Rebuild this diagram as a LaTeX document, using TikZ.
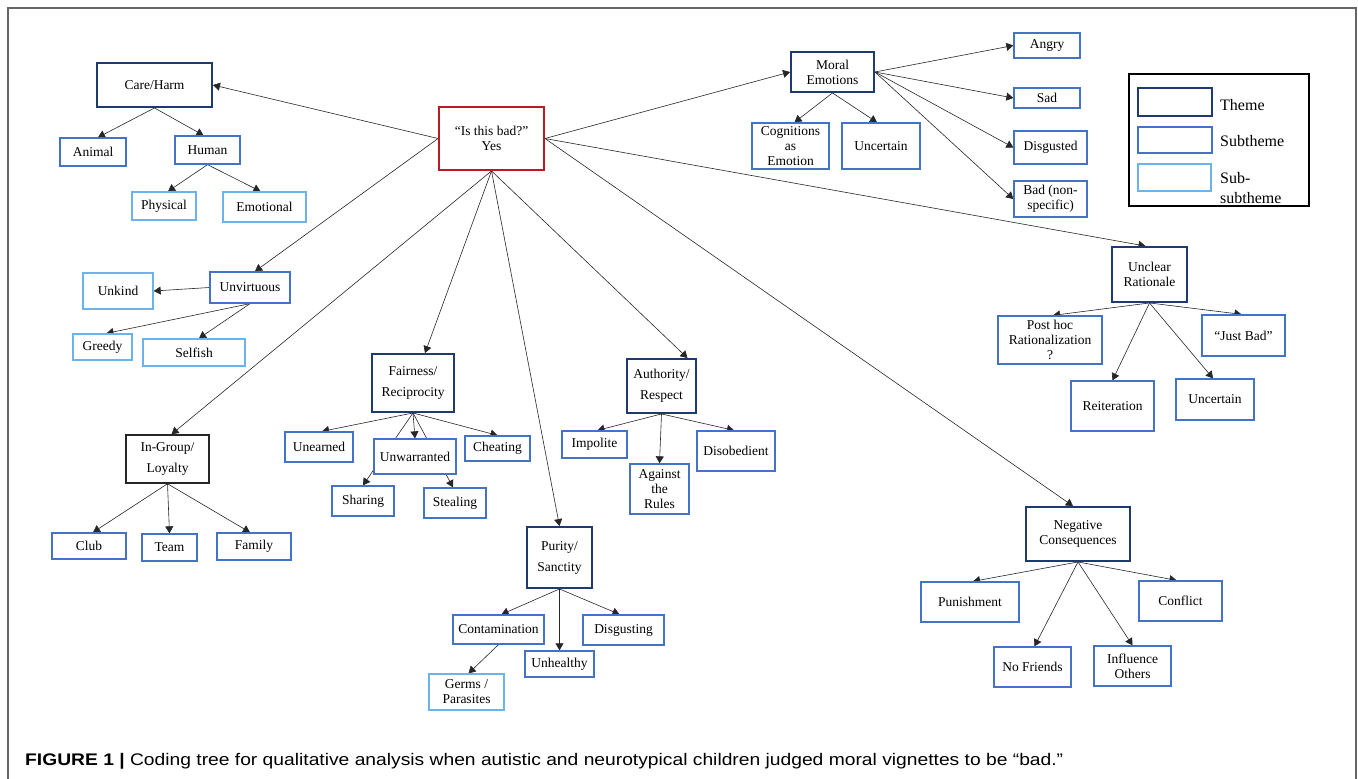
\documentclass[tikz,border=0pt]{standalone}
\usepackage{fontspec}
\setmainfont{Liberation Serif}
\newfontfamily\capfont{Liberation Sans}
\usetikzlibrary{arrows.meta,backgrounds}
\definecolor{navy}{HTML}{1F3A6E}
\definecolor{subblue}{HTML}{4472C4}
\definecolor{lightblue}{HTML}{6CB2EB}
\definecolor{rootred}{HTML}{B81C22}
\definecolor{framegray}{HTML}{666666}
\begin{document}
\begin{tikzpicture}[x=1pt,y=-1pt,
  font=\fontsize{13.5}{15}\selectfont,
  box/.style={draw, fill=white, inner sep=1pt, align=center, line width=1.3pt},
  theme/.style={box, draw=navy, line width=1.9pt},
  sub/.style={box, draw=subblue},
  subsub/.style={box, draw=lightblue},
  rootbox/.style={box, draw=rootred, line width=1.9pt},
  grp/.style={box, draw=black!85, line width=1.5pt},
  sz/.style 2 args={minimum width=#1pt, minimum height=#2pt},
  wide/.style={font=\fontsize{13.5}{21}\selectfont},
  arr/.style={-{Triangle[length=7pt,width=8pt]}, line width=0.6pt, draw=black!85},
  legtext/.style={anchor=west, inner sep=0pt, align=left, font=\fontsize{16}{20}\selectfont}
]
\useasboundingbox (0,0) rectangle (1358,779);
\draw[framegray, line width=1.5pt] (8,779) -- (8,8) -- (1356,8) -- (1356,779);

% root
\node[rootbox, sz={105}{63}] (root) at (491.5,138.5) {“Is this bad?”\\Yes};

% Care/Harm
\node[theme, sz={115}{44}] (care) at (154.5,85) {Care/Harm};
\node[sub, sz={66}{28}] (animal) at (93,152) {Animal};
\node[sub, sz={65}{28}] (human) at (207.5,150) {Human};
\node[subsub, sz={64}{28}] (phys) at (164,206) {Physical};
\node[subsub, sz={83}{30}] (emo) at (264.5,207) {Emotional};

% Moral emotions
\node[theme, sz={83}{40}] (moral) at (832.5,72) {Moral\\Emotions};
\node[sub, sz={77}{46}] (cogn) at (790.5,146) {Cognitions\\as\\Emotion};
\node[sub, sz={78}{46}] (unc1) at (881,146) {Uncertain};
\node[sub, sz={66}{25}] (angry) at (1047,45.5) {Angry};
\node[sub, sz={66}{20}] (sad) at (1047,98) {Sad};
\node[sub, sz={73}{33}] (disg) at (1050.5,147.5) {Disgusted};
\node[sub, sz={73}{36}] (bad) at (1050.5,199) {Bad (non-\\specific)};

% Unclear rationale
\node[theme, sz={75}{55}] (unclear) at (1149.5,274.5) {Unclear\\Rationale};
\node[sub, sz={104}{48}] (posthoc) at (1050,340) {Post hoc\\Rationalization\\?};
\node[sub, sz={83}{41}] (justbad) at (1243.5,335.5) {“Just Bad”};
\node[sub, sz={83}{50}] (reit) at (1112.5,406) {Reiteration};
\node[sub, sz={78}{41}] (unc2) at (1215,399.5) {Uncertain};

% Negative consequences
\node[theme, sz={104}{54}] (negc) at (1078,534) {Negative\\Consequences};
\node[sub, sz={98}{40}] (punish) at (970,602) {Punishment};
\node[sub, sz={83}{40}] (conflict) at (1180.5,601) {Conflict};
\node[sub, sz={77}{40}] (nofr) at (1032.5,667) {No Friends};
\node[sub, sz={77}{40}] (infl) at (1132.5,666) {Influence\\Others};

% Unvirtuous
\node[sub, sz={80}{31}] (unvirt) at (250,287.5) {Unvirtuous};
\node[subsub, sz={70}{36}] (unkind) at (118,291) {Unkind};
\node[subsub, sz={59}{26}] (greedy) at (102.5,347) {Greedy};
\node[subsub, sz={102}{27}] (selfish) at (194,352.5) {Selfish};

% In-group
\node[grp, wide, sz={83}{48}] (ingroup) at (167.5,459) {In-Group/\\Loyalty};
\node[sub, sz={74}{26}] (club) at (89,546) {Club};
\node[sub, sz={55}{27}] (team) at (169.5,547.5) {Team};
\node[sub, sz={74}{27}] (family) at (254,546.5) {Family};

% Fairness
\node[theme, wide, sz={82}{58}] (fair) at (413,383) {Fairness/\\Reciprocity};
\node[sub, sz={68}{30}] (unearned) at (319,447) {Unearned};
\node[sub, sz={82}{35}] (unwar) at (415,456.5) {Unwarranted};
\node[sub, sz={65}{25}] (cheat) at (497.5,448.5) {Cheating};
\node[sub, sz={62}{30}] (sharing) at (363,501) {Sharing};
\node[sub, sz={62}{30}] (stealing) at (455,503) {Stealing};

% Authority
\node[theme, wide, sz={69}{54}] (auth) at (661.5,386) {Authority/\\Respect};
\node[sub, sz={65}{27}] (impolite) at (594.5,444.5) {Impolite};
\node[sub, sz={59}{50}] (against) at (659.5,489) {Against\\the\\Rules};
\node[sub, sz={78}{40}] (disob) at (736,451) {Disobedient};

% Purity
\node[theme, wide, sz={65}{61}] (purity) at (559.5,557.5) {Purity/\\Sanctity};
\node[sub, sz={91}{29}] (contam) at (498.5,629.5) {Contamination};
\node[sub, sz={81}{30}] (disgusting) at (623.5,630) {Disgusting};
\node[sub, sz={69}{26}] (unhealthy) at (559.5,664) {Unhealthy};
\node[subsub, sz={75}{36}] (germs) at (466.5,692) {Germs /\\Parasites};

% Legend
\node[draw=black, line width=1.8pt, sz={180}{132}, inner sep=0pt] (legend) at (1219,140) {};
\node[draw=navy, line width=1.9pt, sz={74}{28}, inner sep=0pt] (lgtheme) at (1175,102) {};
\node[draw=subblue, line width=1.3pt, sz={74}{26}, inner sep=0pt] (lgsub) at (1175,140) {};
\node[draw=lightblue, line width=1.3pt, sz={73}{27}, inner sep=0pt] (lgsubsub) at (1174.5,177.5) {};
\node[legtext] (lttheme) at (1220,105) {Theme};
\node[legtext] (ltsub) at (1220,141) {Subtheme};
\node[legtext] (ltsubsub) at (1220,188) {Sub-\\subtheme};

% Caption
\node[anchor=base west, inner sep=0pt] (cap) at (25,765) {\resizebox{1038pt}{\height}{\capfont\fontsize{16.8}{18}\selectfont\textbf{FIGURE 1 |} Coding tree for qualitative analysis when autistic and neurotypical children judged moral vignettes to be “bad.”}};

\begin{pgfonlayer}{background}
% from root
\draw[arr] (root.west) -- (care.east);
\draw[arr] (root.west) -- ([xshift=5pt]unvirt.north);
\draw[arr] (root.south) -- ([xshift=4pt]ingroup.north);
\draw[arr] (root.south) -- ([xshift=12pt]fair.north);
\draw[arr] (root.south) -- (purity.north);
\draw[arr] (root.south) -- ([xshift=26pt]auth.north);
\draw[arr] (root.east) -- (moral.west);
\draw[arr] (root.east) -- ([xshift=-4pt]unclear.north);
\draw[arr] (root.east) -- ([xshift=-5pt]negc.north);
% care
\draw[arr] (care.south) -- ([xshift=5pt]animal.north);
\draw[arr] (care.south) -- ([xshift=-4pt]human.north);
\draw[arr] (human.south) -- ([xshift=4pt]phys.north);
\draw[arr] (human.south) -- ([xshift=-4pt]emo.north);
% unvirtuous
\draw[arr] (unvirt.west) -- (unkind.east);
\draw[arr] (unvirt.south) -- ([xshift=4pt]greedy.north);
\draw[arr] (unvirt.south) -- ([xshift=5pt]selfish.north);
% in-group
\draw[arr] (ingroup.south) -- ([xshift=4pt]club.north);
\draw[arr] (ingroup.south) -- (team.north);
\draw[arr] (ingroup.south) -- ([xshift=-4pt]family.north);
% fairness
\draw[arr] (fair.south) -- ([xshift=3pt]unearned.north);
\draw[arr] (fair.south) -- (unwar.north);
\draw[arr] (fair.south) -- (cheat.north);
\draw[arr] (fair.south) -- (sharing.north);
\draw[arr] (fair.south) -- ([xshift=-2pt]stealing.north);
% authority
\draw[arr] (auth.south) -- ([xshift=3pt]impolite.north);
\draw[arr] (auth.south) -- (against.north);
\draw[arr] (auth.south) -- ([xshift=-2pt]disob.north);
% purity
\draw[arr] (purity.south) -- ([xshift=3pt]contam.north);
\draw[arr] (purity.south) -- (unhealthy.north);
\draw[arr] (purity.south) -- ([xshift=-4pt]disgusting.north);
\draw[arr] (contam.south) -- ([xshift=2pt]germs.north);
% moral emotions
\draw[arr] (moral.south) -- ([xshift=4pt]cogn.north);
\draw[arr] (moral.south) -- ([xshift=-4pt]unc1.north);
\draw[arr] (moral.east) -- (angry.west);
\draw[arr] (moral.east) -- (sad.west);
\draw[arr] (moral.east) -- (disg.west);
\draw[arr] (moral.east) -- (bad.west);
% unclear
\draw[arr] (unclear.south) -- ([xshift=3pt]posthoc.north);
\draw[arr] (unclear.south) -- (reit.north);
\draw[arr] (unclear.south) -- ([xshift=-2pt]unc2.north);
\draw[arr] (unclear.south) -- ([xshift=-2pt]justbad.north);
% negative consequences
\draw[arr] (negc.south) -- ([xshift=3pt]punish.north);
\draw[arr] (negc.south) -- ([xshift=2pt]nofr.north);
\draw[arr] (negc.south) -- (infl.north);
\draw[arr] (negc.south) -- ([xshift=-4pt]conflict.north);
\end{pgfonlayer}
\end{tikzpicture}
\end{document}
